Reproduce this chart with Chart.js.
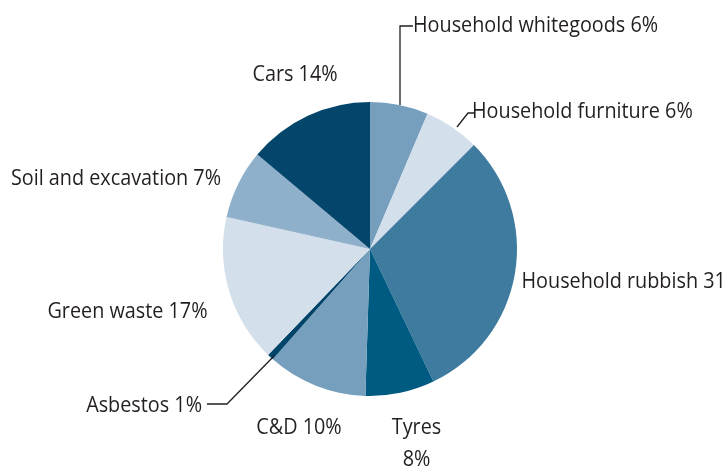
<!DOCTYPE html>
<html>
<head>
<meta charset="utf-8">
<script src="https://cdn.jsdelivr.net/npm/chart.js@4.4.1/dist/chart.umd.min.js"></script>
<style>
html,body{margin:0;padding:0;background:#ffffff;}
#wrap{width:723px;height:466px;position:relative;}
canvas{display:block;}
</style>
</head>
<body>
<div id="wrap"><canvas id="c" width="723" height="466"></canvas></div>
<script>
// Data (clockwise from 12 o'clock)
const categories = ["Household whitegoods", "Household furniture", "Household rubbish", "Tyres", "C&D", "Asbestos", "Green waste", "Soil and excavation", "Cars"];
const shares = [6.4, 6.1, 30.4, 7.6, 11.0, 0.7, 16.3, 7.6, 13.9];
const labelTexts = ["Household whitegoods 6%", "Household furniture 6%", "Household rubbish 31", "Tyres\n8%", "C&D 10%", "Asbestos 1%", "Green waste 17%", "Soil and excavation 7%", "Cars 14%"];
const colors = ["#769fbe", "#d3dfea", "#3e7b9e", "#005b82", "#769fbe", "#004469", "#d3dfea", "#8fb0ca", "#03456b"];

// label layout relative to pie center (dx, dy = baseline), alignment, optional leader polyline (relative pts)
const labelLayout = [
  {dx: 43, dy: -217, align: "left", leader: [[30, -144], [30, -223], [43, -223]]},
  {dx: 102, dy: -131, align: "left", leader: [[87, -122], [98, -136], [105, -136]]},
  {dx: 151.5, dy: 39, align: "left"},
  {dx: 46.5, dy: 185, align: "center"},
  {dx: -71, dy: 185, align: "center"},
  {dx: -168, dy: 163, align: "right", leader: [[-96, 107], [-143, 155], [-163, 155]]},
  {dx: -242.5, dy: 69, align: "center"},
  {dx: -254, dy: -64, align: "center"},
  {dx: -75, dy: -168, align: "center"}
];

const labelPlugin = {
  id: "pieLabels",
  afterDatasetsDraw(chart) {
    const ctx = chart.ctx;
    const arc = chart.getDatasetMeta(0).data[0];
    const cx = arc.x, cy = arc.y;
    ctx.save();
    ctx.fillStyle = "#231f20";
    ctx.strokeStyle = "#231f20";
    ctx.lineWidth = 1.3;
    ctx.font = "22px 'Open Sans', sans-serif";
    ctx.textBaseline = "alphabetic";
    labelLayout.forEach((L, i) => {
      if (L.leader) {
        ctx.beginPath();
        L.leader.forEach((p, k) => {
          const x = cx + p[0], y = cy + p[1];
          if (k === 0) ctx.moveTo(x, y); else ctx.lineTo(x, y);
        });
        ctx.stroke();
      }
      ctx.textAlign = L.align;
      const lines = labelTexts[i].split("\n");
      lines.forEach((t, j) => {
        ctx.save();
        ctx.translate(cx + L.dx, cy + L.dy + j * 32);
        ctx.scale(0.9, 1);
        ctx.fillText(t, 0, 0);
        ctx.restore();
      });
    });
    ctx.restore();
  }
};

new Chart(document.getElementById("c"), {
  type: "pie",
  data: {
    labels: categories,
    datasets: [{
      data: shares,
      backgroundColor: colors,
      borderWidth: 0
    }]
  },
  options: {
    responsive: false,
    animation: false,
    devicePixelRatio: 1,
    layout: {padding: {left: 223, right: 206, top: 102, bottom: 70}},
    plugins: {legend: {display: false}, tooltip: {enabled: false}}
  },
  plugins: [labelPlugin]
});
</script>
</body>
</html>
